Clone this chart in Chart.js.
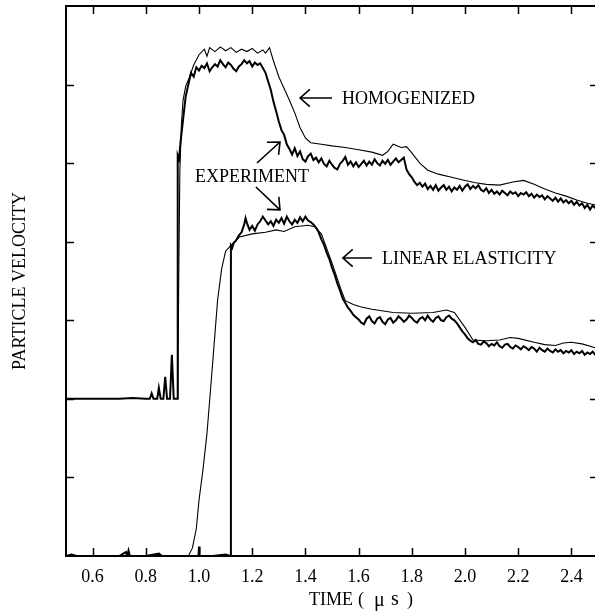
<!DOCTYPE html>
<html>
<head>
<meta charset="utf-8">
<script src="https://cdn.jsdelivr.net/npm/chart.js@4.4.1/dist/chart.umd.min.js"></script>
<style>
  html, body { margin: 0; padding: 0; background: #fff; overflow: hidden; }
</style>
</head>
<body>
<canvas id="chart" width="598" height="616"></canvas>
<script>
// tick values (x labelled, y unlabelled)
const xTicks = [0.6, 0.8, 1.0, 1.2, 1.4, 1.6, 1.8, 2.0, 2.2, 2.4];
const yTicks = [1, 2, 3, 4, 5, 6];

// experiment, upper record (thick, noisy)
const expUpperT = [0.50, 0.60, 0.70, 0.75, 0.80, 0.815, 0.822, 0.829, 0.843, 0.849, 0.856, 0.866, 0.873, 0.880, 0.891, 0.898, 0.905, 0.919,
  0.920, 0.925, 0.93, 0.94, 0.95, 0.96, 0.97, 0.98, 0.99,
  1.00, 1.01, 1.02, 1.03, 1.04, 1.05, 1.06, 1.07, 1.08, 1.09, 1.10, 1.11, 1.12, 1.13, 1.14, 1.15, 1.16, 1.17, 1.18, 1.19,
  1.20, 1.21, 1.22, 1.23, 1.24, 1.25, 1.26, 1.27, 1.28, 1.29, 1.30, 1.31, 1.32, 1.33, 1.34, 1.35, 1.36, 1.37, 1.38, 1.39,
  1.40, 1.41, 1.42, 1.43, 1.44, 1.45, 1.46, 1.47, 1.48, 1.49, 1.50, 1.51, 1.52, 1.53, 1.54, 1.55, 1.56, 1.57, 1.58, 1.59,
  1.60, 1.61, 1.62, 1.63, 1.64, 1.65, 1.66, 1.67, 1.68, 1.69, 1.70, 1.71, 1.72, 1.73, 1.74, 1.75, 1.76, 1.77, 1.78, 1.79,
  1.80, 1.81, 1.82, 1.83, 1.84, 1.85, 1.86, 1.87, 1.88, 1.89, 1.90, 1.91, 1.92, 1.93, 1.94, 1.95, 1.96, 1.97, 1.98, 1.99,
  2.00, 2.01, 2.02, 2.03, 2.04, 2.05, 2.06, 2.07, 2.08, 2.09, 2.10, 2.11, 2.12, 2.13, 2.14, 2.15, 2.16, 2.17, 2.18, 2.19,
  2.20, 2.21, 2.22, 2.23, 2.24, 2.25, 2.26, 2.27, 2.28, 2.29, 2.30, 2.31, 2.32, 2.33, 2.34, 2.35, 2.36, 2.37, 2.38, 2.39,
  2.40, 2.41, 2.42, 2.43, 2.44, 2.45, 2.46, 2.47, 2.48, 2.49, 2.50];
const expUpperV = [2.00, 2.00, 2.00, 2.01, 2.00, 2.00, 2.07, 2.00, 2.00, 2.14, 2.00, 2.00, 2.28, 2.00, 2.00, 2.56, 2.00, 2.00,
  5.10, 5.05, 5.25, 5.55, 5.85, 6.00, 6.15, 6.10, 6.22,
  6.18, 6.24, 6.21, 6.27, 6.17, 6.22, 6.26, 6.23, 6.31, 6.26, 6.22, 6.28, 6.25, 6.20, 6.17, 6.23, 6.26, 6.31, 6.27, 6.30,
  6.23, 6.28, 6.25, 6.27, 6.21, 6.15, 6.04, 5.93, 5.78, 5.66, 5.53, 5.42, 5.36, 5.24, 5.18, 5.11, 5.19, 5.09, 5.15, 5.05,
  5.02, 5.09, 5.12, 5.04, 5.07, 5.01, 5.06, 4.99, 4.96, 5.03, 4.98, 4.94, 4.92, 4.99, 5.03, 5.08, 4.98, 5.02, 4.96, 5.01,
  4.95, 4.99, 5.03, 4.97, 5.02, 4.98, 5.05, 5.00, 4.97, 5.03, 4.99, 5.04, 4.98, 5.02, 5.06, 5.01, 5.04, 5.07, 4.92, 4.86,
  4.82, 4.76, 4.72, 4.75, 4.70, 4.74, 4.67, 4.71, 4.66, 4.72, 4.65, 4.69, 4.72, 4.66, 4.70, 4.64, 4.69, 4.66, 4.71, 4.65,
  4.70, 4.73, 4.67, 4.71, 4.68, 4.72, 4.66, 4.64, 4.68, 4.62, 4.66, 4.61, 4.64, 4.60, 4.65, 4.62, 4.59, 4.64, 4.61, 4.63,
  4.58, 4.62, 4.60, 4.63, 4.58, 4.61, 4.56, 4.60, 4.57, 4.59, 4.54, 4.58, 4.55, 4.52, 4.56, 4.51, 4.55, 4.50, 4.53, 4.49,
  4.52, 4.47, 4.51, 4.46, 4.49, 4.43, 4.47, 4.41, 4.46, 4.43, 4.45];

// homogenized model (thin)
const homT = [0.920, 0.924, 0.928, 0.934, 0.94, 0.95, 0.965, 0.98, 1.00, 1.02, 1.03, 1.04, 1.06, 1.08, 1.10, 1.12, 1.14, 1.16, 1.18, 1.20,
  1.22, 1.24, 1.25, 1.265, 1.28, 1.30, 1.32, 1.34, 1.36, 1.38, 1.40, 1.42, 1.46, 1.50, 1.55, 1.60, 1.65, 1.69, 1.71, 1.73, 1.76, 1.78,
  1.80, 1.83, 1.86, 1.90, 1.95, 2.00, 2.04, 2.08, 2.13, 2.18, 2.22, 2.26, 2.30, 2.34, 2.38, 2.42, 2.46, 2.50];
const homV = [2.00, 3.60, 4.90, 5.50, 5.80, 5.98, 6.10, 6.25, 6.38, 6.45, 6.36, 6.47, 6.42, 6.48, 6.43, 6.47, 6.41, 6.45, 6.42, 6.46,
  6.40, 6.44, 6.40, 6.47, 6.30, 6.10, 5.95, 5.80, 5.64, 5.45, 5.32, 5.26, 5.24, 5.22, 5.20, 5.17, 5.14, 5.10, 5.15, 5.24, 5.20, 5.21,
  5.13, 5.00, 4.91, 4.86, 4.82, 4.78, 4.75, 4.73, 4.72, 4.76, 4.78, 4.73, 4.67, 4.62, 4.58, 4.53, 4.49, 4.46];

// experiment, lower record (thick, noisy)
const expLowerT = [0.50, 0.52, 0.54, 0.70, 0.725, 0.73, 0.735, 0.74, 0.80, 0.85, 0.86, 0.96, 0.998, 1.00, 1.002, 1.05, 1.10, 1.118,
  1.120, 1.125, 1.13, 1.14, 1.15, 1.16, 1.17, 1.175, 1.18, 1.19,
  1.20, 1.21, 1.22, 1.23, 1.24, 1.25, 1.26, 1.27, 1.28, 1.29, 1.30, 1.31, 1.32, 1.33, 1.34, 1.35, 1.36, 1.37, 1.38, 1.39,
  1.40, 1.41, 1.42, 1.43, 1.44, 1.45, 1.46, 1.47, 1.48, 1.49, 1.50, 1.51, 1.52, 1.53, 1.54, 1.55, 1.56, 1.57, 1.58, 1.59,
  1.60, 1.61, 1.62, 1.63, 1.64, 1.65, 1.66, 1.67, 1.68, 1.69, 1.70, 1.71, 1.72, 1.73, 1.74, 1.75, 1.76, 1.77, 1.78, 1.79,
  1.80, 1.81, 1.82, 1.83, 1.84, 1.85, 1.86, 1.87, 1.88, 1.89, 1.90, 1.91, 1.92, 1.93, 1.94, 1.95, 1.96, 1.97, 1.98, 1.99,
  2.00, 2.01, 2.02, 2.03, 2.04, 2.05, 2.06, 2.07, 2.08, 2.09, 2.10, 2.11, 2.12, 2.13, 2.14, 2.15, 2.16, 2.17, 2.18, 2.19,
  2.20, 2.21, 2.22, 2.23, 2.24, 2.25, 2.26, 2.27, 2.28, 2.29, 2.30, 2.31, 2.32, 2.33, 2.34, 2.35, 2.36, 2.37, 2.38, 2.39,
  2.40, 2.41, 2.42, 2.43, 2.44, 2.45, 2.46, 2.47, 2.48, 2.49, 2.50];
const expLowerV = [0.00, 0.02, 0.00, 0.00, 0.05, 0.00, 0.07, 0.00, 0.00, 0.03, 0.00, 0.00, 0.00, 0.12, 0.00, 0.00, 0.02, 0.00,
  3.95, 3.92, 3.98, 4.02, 4.08, 4.12, 4.22, 4.30, 4.24, 4.15,
  4.20, 4.14, 4.22, 4.26, 4.32, 4.27, 4.22, 4.26, 4.20, 4.28, 4.24, 4.30, 4.23, 4.32, 4.26, 4.22, 4.28, 4.24, 4.31, 4.26,
  4.32, 4.27, 4.25, 4.22, 4.18, 4.12, 4.03, 3.96, 3.86, 3.78, 3.67, 3.58, 3.47, 3.38, 3.28, 3.22, 3.16, 3.12, 3.07, 3.04,
  3.01, 2.97, 2.95, 3.02, 3.05, 2.99, 2.96, 3.02, 3.04, 2.98, 2.95, 3.01, 3.03, 2.97, 3.00, 3.05, 3.02, 2.98, 3.01, 3.06,
  3.03, 2.99, 2.97, 3.02, 3.04, 3.00, 3.06, 3.01, 2.98, 3.03, 3.05, 3.00, 2.99, 3.04, 3.06, 3.02, 3.00, 2.96, 2.91, 2.86,
  2.82, 2.77, 2.74, 2.72, 2.75, 2.70, 2.69, 2.73, 2.71, 2.67, 2.70, 2.68, 2.72, 2.67, 2.65, 2.69, 2.70, 2.66, 2.64, 2.68,
  2.66, 2.63, 2.67, 2.65, 2.62, 2.66, 2.64, 2.60, 2.65, 2.62, 2.60, 2.64, 2.61, 2.59, 2.63, 2.60, 2.62, 2.58, 2.61, 2.59,
  2.62, 2.57, 2.60, 2.58, 2.61, 2.56, 2.59, 2.57, 2.60, 2.56, 2.58];

// linear elasticity model (thin)
const linT = [0.50, 0.96, 0.975, 0.99, 1.00, 1.015, 1.03, 1.05, 1.07, 1.085, 1.10, 1.127, 1.152, 1.20, 1.25, 1.29, 1.32, 1.36, 1.41,
  1.435, 1.46, 1.50, 1.535, 1.55, 1.58, 1.61, 1.65, 1.73, 1.80, 1.88, 1.93, 1.96, 2.00, 2.03, 2.08, 2.13, 2.17, 2.20, 2.26, 2.30,
  2.34, 2.37, 2.40, 2.44, 2.48, 2.50];
const linV = [0.00, 0.00, 0.10, 0.35, 0.71, 1.10, 1.56, 2.40, 3.26, 3.65, 3.88, 3.98, 4.06, 4.10, 4.12, 4.15, 4.13, 4.19, 4.21,
  4.19, 4.10, 3.73, 3.38, 3.25, 3.20, 3.17, 3.14, 3.10, 3.09, 3.10, 3.13, 3.10, 2.91, 2.75, 2.74, 2.75, 2.78, 2.77, 2.72, 2.69,
  2.68, 2.71, 2.72, 2.70, 2.66, 2.64];

const FONT = 'Liberation Serif';

function zip(ts, vs) {
  return ts.map((t, i) => ({ x: t, y: vs[i] }));
}

function serie(ts, vs, width) {
  return {
    data: zip(ts, vs),
    borderColor: '#000',
    borderWidth: width,
    pointRadius: 0,
    tension: 0,
    fill: false,
    xAxisID: 'x',
    yAxisID: 'y'
  };
}

// inward tick marks, on all four sides
const inwardTicks = {
  id: 'inwardTicks',
  afterDraw(chart) {
    const { ctx, chartArea: a, scales } = chart;
    const len = 8;
    ctx.save();
    ctx.strokeStyle = '#000';
    ctx.lineWidth = 1.5;
    ctx.beginPath();
    xTicks.forEach(v => {
      const px = Math.round(scales.x.getPixelForValue(v)) + 0.5;
      ctx.moveTo(px, a.bottom); ctx.lineTo(px, a.bottom - len);
      ctx.moveTo(px, a.top); ctx.lineTo(px, a.top + len);
    });
    yTicks.forEach(v => {
      const py = Math.round(scales.y.getPixelForValue(v)) + 0.5;
      ctx.moveTo(a.left, py); ctx.lineTo(a.left + len, py);
      ctx.moveTo(a.right, py); ctx.lineTo(a.right - len, py);
    });
    ctx.stroke();
    ctx.restore();
  }
};

// labels and arrows pointing at the curves
function arrow(ctx, x1, y1, x2, y2) {
  const ang = Math.atan2(y2 - y1, x2 - x1);
  const h = 13, spread = 0.72;
  ctx.beginPath();
  ctx.moveTo(x1, y1); ctx.lineTo(x2, y2);
  ctx.moveTo(x2 - h * Math.cos(ang - spread), y2 - h * Math.sin(ang - spread));
  ctx.lineTo(x2, y2);
  ctx.lineTo(x2 - h * Math.cos(ang + spread), y2 - h * Math.sin(ang + spread));
  ctx.stroke();
}

const notes = {
  id: 'notes',
  afterDraw(chart) {
    const { ctx, scales } = chart;
    const X = v => scales.x.getPixelForValue(v);
    const Y = v => scales.y.getPixelForValue(v);
    ctx.save();
    ctx.fillStyle = '#000';
    ctx.strokeStyle = '#000';
    ctx.lineWidth = 1.6;
    ctx.font = '18px "' + FONT + '"';
    ctx.textBaseline = 'alphabetic';
    ctx.textAlign = 'left';

    ctx.fillText('HOMOGENIZED', X(1.538), Y(5.753));
    arrow(ctx, X(1.50), Y(5.829), X(1.380), Y(5.829));

    ctx.fillText('EXPERIMENT', X(0.985), Y(4.760));
    arrow(ctx, X(1.218), Y(5.002), X(1.3045), Y(5.269));
    arrow(ctx, X(1.214), Y(4.696), X(1.3045), Y(4.405));

    ctx.fillText('LINEAR ELASTICITY', X(1.688), Y(3.716));
    arrow(ctx, X(1.650), Y(3.793), X(1.541), Y(3.793));

    // x axis title
    ctx.fillText('TIME', 309, 605);
    ctx.fillText('(', 358, 605);
    ctx.font = '20px "' + FONT + '"';
    ctx.fillText('\u03bc', 374, 606);
    ctx.fillText('s', 391, 605);
    ctx.font = '18px "' + FONT + '"';
    ctx.fillText(')', 407, 605);
    ctx.restore();
  }
};

new Chart(document.getElementById('chart'), {
  type: 'line',
  data: {
    datasets: [
      serie(expUpperT, expUpperV, 2),
      serie(homT, homV, 1.1),
      serie(expLowerT, expLowerV, 2),
      serie(linT, linV, 1.1)
    ]
  },
  options: {
    responsive: false,
    animation: false,
    layout: { padding: 0 },
    plugins: { legend: { display: false }, tooltip: { enabled: false } },
    scales: {
      x: {
        type: 'linear', position: 'bottom', min: 0.5, max: 2.5,
        afterBuildTicks: s => { s.ticks = xTicks.map(v => ({ value: v })); },
        afterFit: s => { s.height = 60; },
        ticks: {
          color: '#000', padding: 10, maxRotation: 0, autoSkip: false,
          font: { family: FONT, size: 18 },
          callback: v => v.toFixed(1)
        },
        grid: { display: false, drawTicks: false },
        border: { color: '#000', width: 2 }
      },
      x2: {
        type: 'linear', position: 'top', min: 0.5, max: 2.5,
        afterFit: s => { s.height = 6; },
        ticks: { display: false },
        grid: { display: false, drawTicks: false },
        border: { color: '#000', width: 2 }
      },
      y: {
        type: 'linear', position: 'left', min: 0, max: 7,
        afterFit: s => { s.width = 66; },
        ticks: { display: false },
        grid: { display: false, drawTicks: false },
        border: { color: '#000', width: 2 },
        title: {
          display: true, text: 'PARTICLE VELOCITY', color: '#000',
          font: { family: FONT, size: 18 }, padding: { top: 9, bottom: 0 }
        }
      },
      y2: {
        type: 'linear', position: 'right', min: 0, max: 7,
        afterFit: s => { s.width = 0; },
        ticks: { display: false },
        grid: { display: false, drawTicks: false },
        border: { color: '#000', width: 2 }
      }
    }
  },
  plugins: [inwardTicks, notes]
});
</script>
</body>
</html>
